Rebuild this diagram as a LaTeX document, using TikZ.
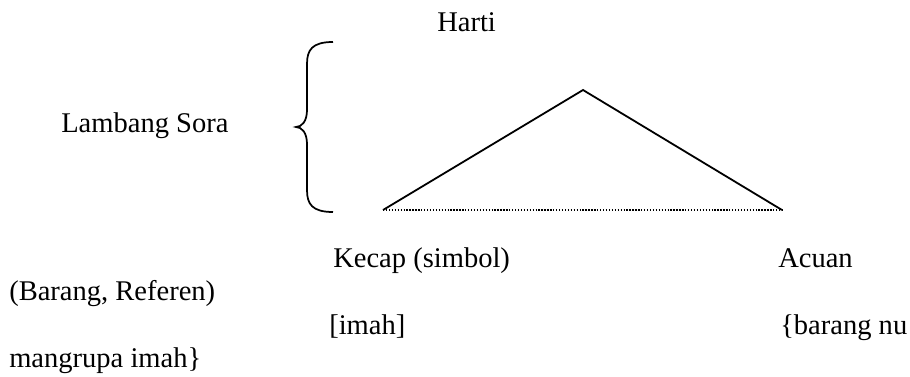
\documentclass[tikz,border=0pt]{standalone}
\usepackage{fontspec}
\setmainfont{Liberation Serif}
\begin{document}
\begin{tikzpicture}[x=0.75pt,y=-0.75pt,
  lbl/.style={anchor=base west,inner sep=0pt,font=\fontsize{21.4}{25}\selectfont},
  solidline/.style={line width=1.35pt,line join=miter},
  dotline/.style={line width=1pt,dash pattern=on 1pt off 1.2pt}]
\useasboundingbox (0,0) rectangle (910,377);
% labels
\node[lbl] (harti) at (437,32) {Harti};
\node[lbl] (lambang) at (61,133) {Lambang Sora};
\node[lbl] (kecap) at (333,268) {Kecap (simbol)};
\node[lbl] (acuan) at (778,268) {Acuan};
\node[lbl] (barang) at (9,301) {(Barang, Referen)};
\node[lbl] (imah) at (329,335) {[imah]};
\node[lbl] (barangnu) at (780,335) {\{barang nu};
\node[lbl] (mangrupa) at (9,368) {mangrupa imah\}};
% triangle
\coordinate (L) at (383,210);
\coordinate (A) at (583,90);
\coordinate (R) at (782,210);
\draw[solidline] (L) -- (A) -- (R);
\draw[dotline] (L) -- (R);
% brace
\coordinate (btop) at (333,42);
\coordinate (btip) at (296,127);
\coordinate (bbot) at (333,212);
\draw[line width=1.3pt] (btop) .. controls (312,42) and (307,50) .. (307,64)
  -- (307,110) .. controls (307,121) and (302,127) .. (btip)
  .. controls (302,127) and (307,133) .. (307,144)
  -- (307,190) .. controls (307,204) and (312,212) .. (bbot);
\end{tikzpicture}
\end{document}
